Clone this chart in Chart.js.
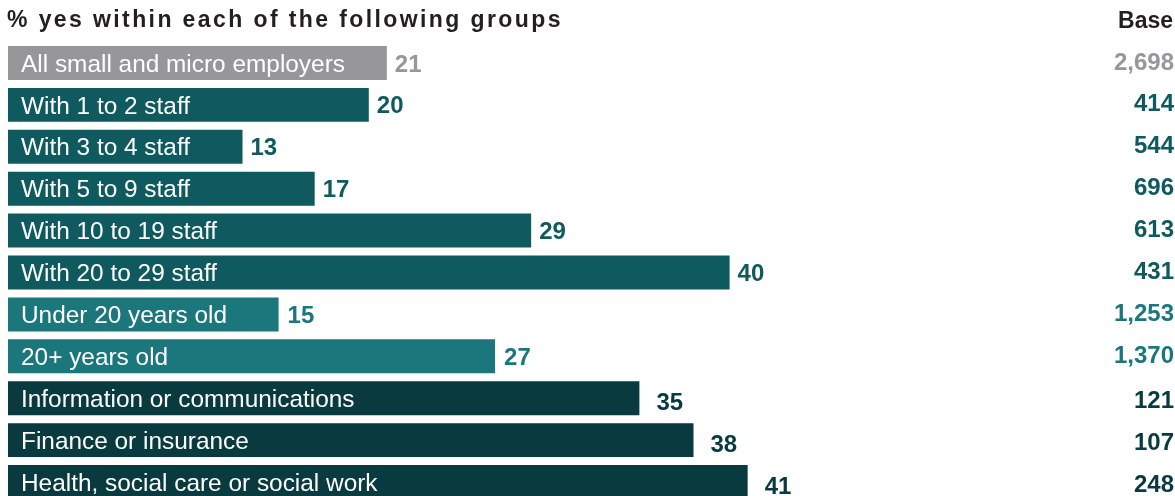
<!DOCTYPE html>
<html>
<head>
<meta charset="utf-8">
<script src="https://cdn.jsdelivr.net/npm/chart.js@4"></script>
<style>
  html, body { margin: 0; padding: 0; background: #fff; overflow: hidden; }
  #wrap { position: relative; width: 1175px; height: 504px; }
</style>
</head>
<body>
<div id="wrap"><canvas id="myChart"></canvas></div>
<script>
// data
const categories = [
  'All small and micro employers',
  'With 1 to 2 staff',
  'With 3 to 4 staff',
  'With 5 to 9 staff',
  'With 10 to 19 staff',
  'With 20 to 29 staff',
  'Under 20 years old',
  '20+ years old',
  'Information or communications',
  'Finance or insurance',
  'Health, social care or social work'
];
const percentYes = [21, 20, 13, 17, 29, 40, 15, 27, 35, 38, 41];
const baseSizes = [2698, 414, 544, 696, 613, 431, 1253, 1370, 121, 107, 248];
// 0 = all, 1 = size band, 2 = business age, 3 = sector
const groupOf = [0, 1, 1, 1, 1, 1, 2, 2, 3, 3, 3];

const titleText = '% yes within each of the following groups';
const baseTitle = 'Base';

// styles per group
const groupColor = ['#97979a', '#0e5a5e', '#1b777b', '#083a3f'];
const groupGap = [8, 8, 9, 17];
const groupDy = [0, 0, 0, 3];

const fontFam = '"Liberation Sans", Arial, sans-serif';

const textPlugin = {
  id: 'textPlugin',
  afterDatasetsDraw(chart) {
    const ctx = chart.ctx;
    const meta = chart.getDatasetMeta(0);
    ctx.save();

    // title
    ctx.fillStyle = '#231f20';
    ctx.font = 'bold 23px ' + fontFam;
    ctx.textBaseline = 'alphabetic';
    ctx.textAlign = 'left';
    ctx.letterSpacing = '2.4px';
    ctx.fillText(titleText, 7, 27);
    ctx.letterSpacing = '0px';
    ctx.textAlign = 'right';
    ctx.fillText(baseTitle, 1173, 28);

    meta.data.forEach((bar, i) => {
      const g = groupOf[i];
      // category label inside the bar
      ctx.fillStyle = '#ffffff';
      ctx.font = '24.4px ' + fontFam;
      ctx.textAlign = 'left';
      ctx.textBaseline = 'middle';
      ctx.fillText(categories[i], bar.base + 13, bar.y + 2);

      // value at the bar end
      ctx.fillStyle = groupColor[g];
      ctx.font = 'bold 24px ' + fontFam;
      ctx.fillText(String(percentYes[i]), bar.x + groupGap[g], bar.y + 2 + groupDy[g]);

      // base column
      ctx.textAlign = 'right';
      ctx.fillText(baseSizes[i].toLocaleString('en-GB'), 1174, bar.y + groupDy[g]);
    });
    ctx.restore();
  }
};

new Chart(document.getElementById('myChart'), {
  type: 'bar',
  data: {
    labels: categories,
    datasets: [{
      data: percentYes,
      backgroundColor: groupOf.map(g => groupColor[g]),
      borderWidth: 0,
      categoryPercentage: 1,
      barPercentage: 0.81
    }]
  },
  options: {
    indexAxis: 'y',
    responsive: true,
    maintainAspectRatio: false,
    animation: false,
    layout: { padding: { left: 8, right: 265, top: 42, bottom: 1 } },
    plugins: {
      legend: { display: false },
      tooltip: { enabled: false }
    },
    scales: {
      x: { display: false, min: 0, max: 50 },
      y: { display: false }
    }
  },
  plugins: [textPlugin]
});
</script>
</body>
</html>
